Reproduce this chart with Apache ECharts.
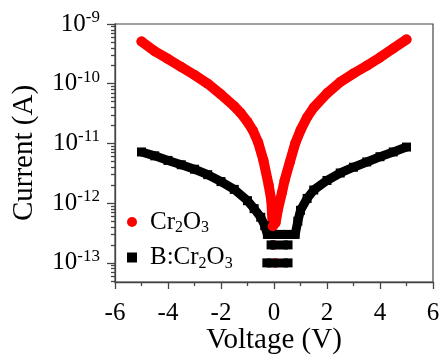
<!DOCTYPE html>
<html>
<head>
<meta charset="utf-8">
<style>
body { margin: 0; background: #fff; }
#chart { width: 442px; height: 358px; }
</style>
<script src="https://cdn.jsdelivr.net/npm/echarts@6/dist/echarts.min.js"></script>
</head>
<body>
<div id="chart"></div>
<script>
// Cr2O3: main sweep (V, A)
const crVoltage = [-5.0, -4.5, -4.0, -3.5, -3.0, -2.5, -2.0, -1.5, -1.25, -1.0, -0.8, -0.6, -0.4, -0.2, -0.1, -0.05,
  0.06, 0.15, 0.3, 0.4, 0.6, 0.8, 1.0, 1.25, 1.5, 2.0, 2.5, 3.0, 3.5, 4.0, 4.5, 5.0];
const crCurrent = [5.1e-10, 3.5e-10, 2.6e-10, 1.9e-10, 1.4e-10, 1.0e-10, 6.6e-11, 4.2e-11, 3.2e-11, 2.3e-11, 1.66e-11, 1.05e-11, 5.2e-12, 2.0e-12, 1.1e-12, 4.1e-13,
  4.7e-13, 7.9e-13, 1.5e-12, 2.4e-12, 4.9e-12, 1.0e-11, 1.66e-11, 2.75e-11, 4.0e-11, 6.9e-11, 1.07e-10, 1.48e-10, 2.0e-10, 2.75e-10, 3.9e-10, 5.5e-10];
// Cr2O3: isolated points at the instrument floor
const crFloorVoltage = [-0.05, 0.04];
const crFloorCurrent = [2e-13, 1e-13];

// B:Cr2O3: main sweep
const bVoltage = [-5.0, -4.5, -4.0, -3.5, -3.0, -2.5, -2.0, -1.5, -1.0, -0.75, -0.5, -0.35, -0.25, 0.0, 0.25, 0.5, 0.8,
  0.9, 1.0, 1.25, 1.5, 2.0, 2.5, 3.0, 3.5, 4.0, 4.5, 5.0];
const bCurrent = [7.2e-12, 6.2e-12, 5.2e-12, 4.4e-12, 3.7e-12, 3.0e-12, 2.3e-12, 1.7e-12, 1.1e-12, 8.1e-13, 5.8e-13, 4.2e-13, 3e-13, 3e-13, 3e-13, 3e-13, 3e-13,
  5.0e-13, 7.6e-13, 1.2e-12, 1.66e-12, 2.4e-12, 3.2e-12, 4.0e-12, 4.9e-12, 6.0e-12, 7.2e-12, 8.7e-12];
// B:Cr2O3: floor levels (start V, end V, current)
const bFloorStart = [-0.11, -0.27];
const bFloorEnd = [0.53, 0.53];
const bFloorCurrent = [2e-13, 1e-13];

// axis ranges and ticks
const xMin = -6, xMax = 6, xInterval = 2;
const yMaxLog = -9, yMinLog = -13.32;
const yMajorExp = [-13, -12, -11, -10, -9];

const serif = 'Liberation Serif';
const axisColor = '#444';

const yMinorLog = [];
for (let n = -14; n <= -10; n++) {
  for (let k = 2; k <= 9; k++) {
    const v = Math.log10(k) + n;
    if (v >= yMinLog && v <= yMaxLog) yMinorLog.push(v);
  }
}

const zip = (xs, ys) => xs.map((x, i) => [x, ys[i]]);

const series = [];
series.push({
  name: 'B:Cr2O3', type: 'line', data: zip(bVoltage, bCurrent),
  symbol: 'rect', symbolSize: 9, showSymbol: true,
  itemStyle: { color: '#000' },
  lineStyle: { color: '#000', width: 9, join: 'round' }
});
bFloorCurrent.forEach((c, i) => {
  series.push({
    name: 'B:Cr2O3', type: 'line', data: [[bFloorStart[i], c], [bFloorEnd[i], c]],
    symbol: 'rect', symbolSize: 9,
    itemStyle: { color: '#000' },
    lineStyle: { color: '#000', width: 9 }
  });
});
series.push({
  name: 'Cr2O3', type: 'line', data: zip(crVoltage, crCurrent),
  symbol: 'circle', symbolSize: 10, showSymbol: true,
  itemStyle: { color: '#ff0000' },
  lineStyle: { color: '#ff0000', width: 10, cap: 'round', join: 'round' }
});
series.push({
  name: 'Cr2O3', type: 'scatter', data: zip(crFloorVoltage, crFloorCurrent),
  symbol: 'circle', symbolSize: 10,
  itemStyle: { color: '#ff0000' }
});

const chart = echarts.init(document.getElementById('chart'), null, { renderer: 'canvas' });
chart.setOption({
  animation: false,
  backgroundColor: '#fff',
  textStyle: { fontFamily: serif },
  grid: {
    left: 115, top: 24, right: 9, bottom: 76,
    show: true, borderColor: axisColor, borderWidth: 1.2,
    outerBoundsMode: 'none'
  },
  legend: {
    orient: 'vertical', left: 122, top: 203, itemGap: 7.5,
    itemWidth: 10, itemHeight: 10, selectedMode: false,
    data: [{ name: 'Cr2O3', icon: 'circle' }, { name: 'B:Cr2O3', icon: 'rect' }],
    formatter: name => name.replace(/(\d)/g, '{s|$1}'),
    textStyle: {
      fontFamily: serif, fontSize: 25, color: '#000', lineHeight: 28,
      padding: [0, 0, 0, 8],
      rich: { s: { fontFamily: serif, fontSize: 16, color: '#000', verticalAlign: 'bottom', lineHeight: 12 } }
    }
  },
  xAxis: {
    type: 'value', min: xMin, max: xMax, interval: xInterval,
    name: 'Voltage (V)', nameLocation: 'middle', nameGap: 44, nameMoveOverlap: false,
    nameTextStyle: { fontFamily: serif, fontSize: 29, color: '#000' },
    axisLine: { onZero: false, lineStyle: { color: axisColor, width: 1.3 } },
    axisTick: { length: 7, lineStyle: { color: axisColor, width: 1.3 } },
    minorTick: { show: true, splitNumber: 2, length: 4, lineStyle: { color: axisColor, width: 1.3 } },
    axisLabel: { fontFamily: serif, fontSize: 25, color: '#000', margin: 19 },
    splitLine: { show: false }
  },
  yAxis: [
    {
      type: 'log', min: Math.pow(10, yMinLog), max: Math.pow(10, yMaxLog),
      axisLine: { show: true, onZero: false, lineStyle: { color: axisColor, width: 1.3 } },
      axisTick: { show: false }, axisLabel: { show: false }, splitLine: { show: false }
    },
    {
      type: 'value', min: yMinLog, max: yMaxLog, position: 'left', offset: 0,
      name: 'Current (A)', nameLocation: 'middle', nameGap: 76, nameMoveOverlap: false,
      nameTextStyle: { fontFamily: serif, fontSize: 29, color: '#000' },
      axisLine: { show: false, onZero: false },
      axisTick: { customValues: yMajorExp, length: 8, lineStyle: { color: axisColor, width: 1.3 } },
      axisLabel: {
        customValues: yMajorExp, margin: 15, fontFamily: serif,
        formatter: v => '{b|10}{p|' + Math.round(v) + '}',
        rich: {
          b: { fontFamily: serif, fontSize: 25, color: '#000', lineHeight: 30 },
          p: { fontFamily: serif, fontSize: 17, color: '#000', verticalAlign: 'top', lineHeight: 16 }
        }
      },
      splitLine: { show: false }
    },
    {
      type: 'value', min: yMinLog, max: yMaxLog, position: 'left', offset: 0,
      axisLine: { show: false, onZero: false },
      axisTick: { customValues: yMinorLog, length: 4, lineStyle: { color: axisColor, width: 1.3 } },
      axisLabel: { show: false },
      splitLine: { show: false }
    }
  ],
  series: series
});
</script>
</body>
</html>
